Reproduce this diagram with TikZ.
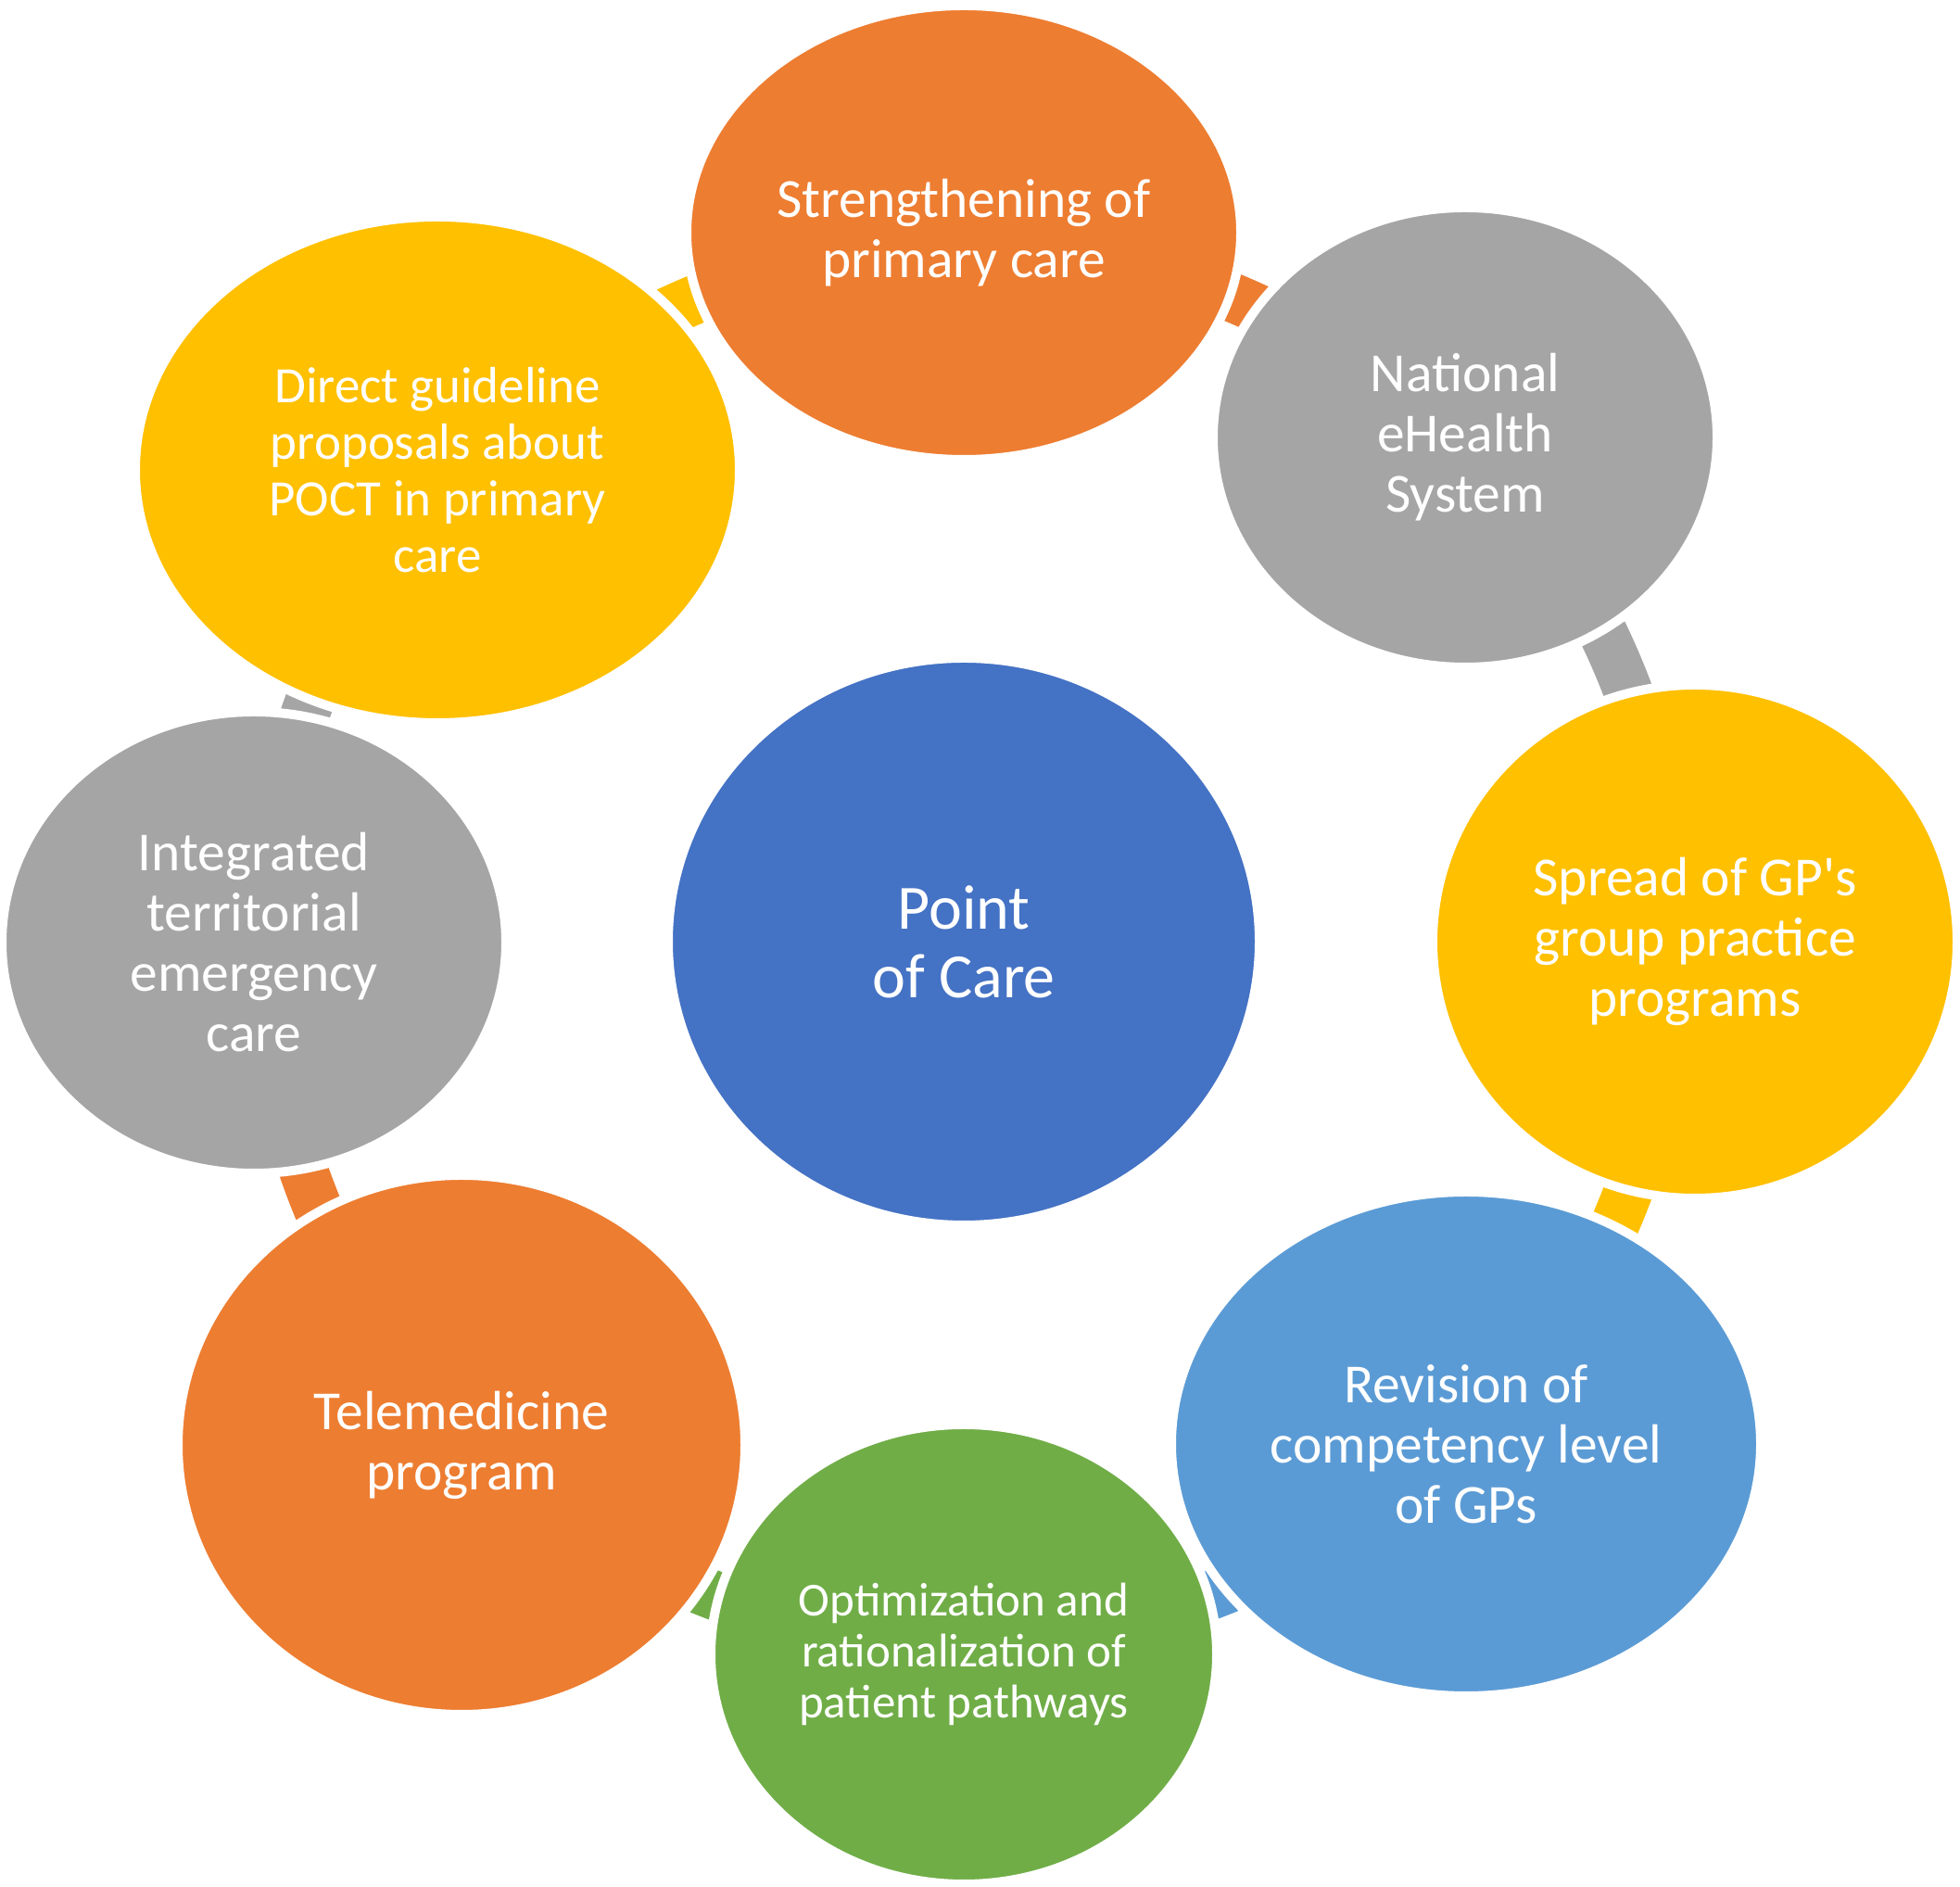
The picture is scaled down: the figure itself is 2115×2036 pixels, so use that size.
\documentclass[tikz,border=0pt]{standalone}
\usepackage{fontspec}
\setmainfont{Carlito}[Ligatures=TeXOff]
\usetikzlibrary{shapes.geometric}
\definecolor{cOrange}{HTML}{ED7D31}
\definecolor{cGray}{HTML}{A5A5A5}
\definecolor{cYellow}{HTML}{FFC000}
\definecolor{cBlue}{HTML}{4472C4}
\definecolor{cLight}{HTML}{5B9BD5}
\definecolor{cGreen}{HTML}{70AD47}
\begin{document}
\begin{tikzpicture}[x=1pt,y=1pt,
  bub/.style={ellipse, fill=#1, draw=white, line width=10pt, inner sep=0pt,
    text=white, align=center, font=\fontsize{59.5}{65}\selectfont},
  link/.style={draw=#1, line width=53pt}]
\useasboundingbox (0,0) rectangle (2115,2036);
\coordinate (ctr) at (1040,1020);
% ring coordinates
\coordinate (r1) at ([shift={(90:753)}]ctr);
\coordinate (r2) at ([shift={(45:766)}]ctr);
\coordinate (r3) at ([shift={(0:766)}]ctr);
\coordinate (r4) at ([shift={(-45:754)}]ctr);
\coordinate (r5) at ([shift={(-90:755)}]ctr);
\coordinate (r6) at ([shift={(-135:754)}]ctr);
\coordinate (r7) at ([shift={(180:752)}]ctr);
\coordinate (r8) at ([shift={(135:751)}]ctr);
% connectors
\draw[link=cOrange] (r1) arc[start angle=90, end angle=45, radius=753];
\draw[link=cGray]   (r2) arc[start angle=45, end angle=0, radius=766];
\draw[link=cYellow] (r3) arc[start angle=0, end angle=-45, radius=766];
\draw[link=cLight]  (r4) arc[start angle=-45, end angle=-90, radius=754];
\draw[link=cGreen]  (r5) arc[start angle=-90, end angle=-135, radius=755];
\draw[link=cOrange] (r6) arc[start angle=-135, end angle=-180, radius=754];
\draw[link=cGray]   (r7) arc[start angle=180, end angle=135, radius=752];
\draw[link=cYellow] (r8) arc[start angle=135, end angle=90, radius=751];
% bubbles
\node[bub=cBlue, minimum width=638, minimum height=612,
  font=\fontsize{68}{74}\selectfont] (poc) at (ctr) {Point\\of Care};
\node[bub=cOrange, minimum width=598, minimum height=490] (n1) at (1040,1785)
  {Strengthening of\\primary care};
\node[bub=cGray, minimum width=544, minimum height=496] (n2) at (1581,1564)
  {National\\eHealth\\System};
\node[bub=cYellow, minimum width=566, minimum height=554] (n3) at (1829,1020)
  {Spread of GP's\\group practice\\programs};
\node[bub=cLight, minimum width=636, minimum height=544] (n4) at (1582,478)
  {Revision of\\competency level\\of GPs};
\node[bub=cGreen, minimum width=546, minimum height=496,
  font=\fontsize{51}{55}\selectfont] (n5) at (1040,251)
  {Optimization and\\rationalization of\\patient pathways};
\node[bub=cOrange, minimum width=612, minimum height=582] (n6) at (498,477)
  {Telemedicine\\program};
\node[bub=cGray, minimum width=544, minimum height=498] (n7) at (274,1019)
  {Integrated\\territorial\\emergency\\care};
\node[bub=cYellow, minimum width=652, minimum height=546,
  font=\fontsize{55}{61}\selectfont] (n8) at (472,1529)
  {Direct guideline\\proposals about\\POCT in primary\\care};
\end{tikzpicture}
\end{document}
